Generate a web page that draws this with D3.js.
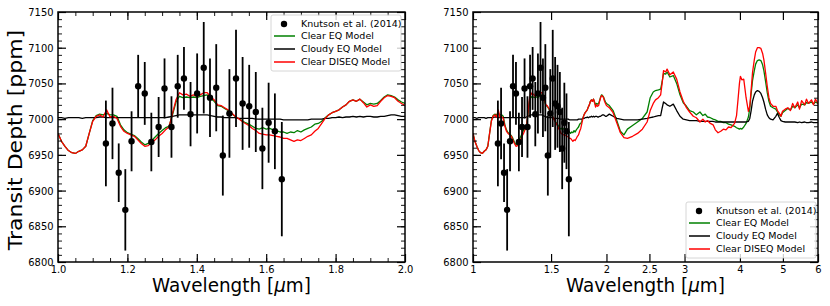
<!DOCTYPE html>
<meta charset="utf-8">
<head>
    <title>Transit spectrum</title>
    <script src="https://d3js.org/d3.v7.min.js"></script>
</head>

<style>
body { margin: 0; background: #fff; }
text { font-family: "DejaVu Sans", sans-serif; fill: #000; }
.tick text { font-size: 11px; }
.domain { display: none; }
.major line { stroke: #000; stroke-width: 1.2; }
.minor line { stroke: #000; stroke-width: 0.9; }
.model { fill: none; stroke-width: 1.3; stroke-linejoin: round; }
</style>

<body>

<svg width="830" height="306"></svg>

<script>

// observed points (Knutson et al. 2014)
let obsWave = [1.138, 1.157, 1.175, 1.194, 1.212, 1.231, 1.250, 1.269, 1.290, 1.307,
               1.327, 1.345, 1.363, 1.382, 1.401, 1.420, 1.438, 1.456, 1.475, 1.494,
               1.513, 1.532, 1.551, 1.570, 1.589, 1.607, 1.625, 1.645];
let obsDepth = [6966, 6994, 6925, 6873, 6969, 7046, 7036, 6968, 6989, 7043,
                6989, 7046, 7057, 7007, 7036, 7072, 7030, 7044, 6949, 7008,
                7057, 7022, 7018, 7010, 6959, 6995, 6983, 6916];
let obsErr = [60, 50, 41, 57, 42, 44, 44, 41, 42, 42,
              43, 44, 44, 45, 56, 64, 55, 61, 56, 62,
              68, 65, 58, 56, 57, 56, 53, 80];

// model wavelength grid (um)
let modelWave = [
  1.00, 1.01, 1.02, 1.03, 1.04, 1.05, 1.06, 1.07, 1.08, 1.09,
  1.10, 1.11, 1.12, 1.13, 1.14, 1.15, 1.16, 1.17, 1.18, 1.19,
  1.20, 1.21, 1.22, 1.23, 1.24, 1.25, 1.26, 1.27, 1.28, 1.29,
  1.30, 1.31, 1.32, 1.33, 1.34, 1.35, 1.36, 1.37, 1.38, 1.39,
  1.40, 1.41, 1.42, 1.43, 1.44, 1.45, 1.46, 1.47, 1.48, 1.49,
  1.50, 1.51, 1.52, 1.53, 1.54, 1.55, 1.56, 1.57, 1.58, 1.59,
  1.60, 1.61, 1.62, 1.63, 1.64, 1.65, 1.66, 1.67, 1.68, 1.69,
  1.70, 1.71, 1.72, 1.73, 1.74, 1.75, 1.76, 1.77, 1.78, 1.79,
  1.80, 1.81, 1.82, 1.83, 1.84, 1.85, 1.86, 1.87, 1.88, 1.89,
  1.90, 1.91, 1.92, 1.93, 1.94, 1.95, 1.96, 1.97, 1.98, 1.99,
  2.00,
  2.03, 2.07, 2.11, 2.15, 2.19,
  2.23, 2.29, 2.35, 2.41, 2.47,
  2.51, 2.55, 2.58, 2.62, 2.65,
  2.67, 2.69, 2.72, 2.74, 2.78,
  2.83, 2.88, 2.93, 2.98, 3.03,
  3.08, 3.14, 3.19, 3.25, 3.30,
  3.34, 3.38, 3.43, 3.48, 3.52,
  3.57, 3.62, 3.67, 3.72, 3.77,
  3.82, 3.89, 3.93, 3.96, 3.99,
  4.01, 4.04, 4.08, 4.13, 4.18,
  4.21, 4.24, 4.27, 4.31, 4.34,
  4.38, 4.42, 4.46, 4.50, 4.53,
  4.57, 4.61, 4.65, 4.69, 4.75,
  4.82, 4.86, 4.91, 4.95, 4.99,
  5.06, 5.13, 5.20, 5.26, 5.32,
  5.40, 5.45, 5.51, 5.60, 5.65,
  5.71, 5.80, 5.86, 5.92, 6.00
];

let clearEq = [
  6980, 6969, 6962, 6956, 6953, 6952, 6955, 6957, 6962, 6980,
  6998, 7005, 7007, 7006, 7008, 7006, 7006, 7004, 6992, 6985,
  6981, 6979, 6977, 6973, 6968, 6964, 6966, 6970, 6975, 6980,
  6984, 6988, 6990, 7006, 7024, 7032, 7030, 7031, 7030, 7031,
  7030, 7032, 7033, 7034, 7029, 7025, 7019, 7018, 7015, 7012,
  7008, 7004, 7001, 6998, 6995, 6993, 6990, 6987, 6986, 6988,
  6986, 6987, 6985, 6984, 6982, 6982, 6980, 6982, 6981, 6984,
  6982, 6985, 6987, 6989, 6993, 6994, 6997, 7002, 7006, 7009,
  7011, 7013, 7017, 7020, 7025, 7027, 7025, 7028, 7024, 7020,
  7022, 7021, 7022, 7026, 7031, 7034, 7033, 7031, 7027, 7024,
  7022,
  7019, 7012, 6998, 6983, 6978,
  6986, 6991, 6996, 7001, 7010,
  7030, 7038, 7040, 7041, 7042,
  7052, 7064, 7063, 7066, 7059,
  7061, 7050, 7034, 7023, 7018,
  7012, 7010, 7006, 7010, 7005,
  7007, 7003, 7002, 7000, 6999,
  6997, 6997, 6995, 6995, 6993,
  6992, 6990, 6988, 6987, 6986,
  6987, 6986, 6989, 6994, 7003,
  7015, 7036, 7054, 7068, 7077,
  7082, 7083, 7082, 7076, 7068,
  7053, 7037, 7025, 7018, 7016,
  7014, 7010, 7006, 7004, 7009,
  7012, 7015, 7013, 7018, 7016,
  7020, 7016, 7021, 7020, 7023,
  7022, 7024, 7021, 7024, 7022
];

let cloudyEq = [
  7002, 7002, 7001, 7002, 7002, 7002, 7002, 7001, 7002, 7002,
  7002, 7002, 7003, 7003, 7002, 7002, 7002, 7002, 7002, 7002,
  7002, 7002, 7002, 7002, 7002, 7002, 7002, 7002, 7002, 7002,
  7002, 7002, 7003, 7004, 7005, 7006, 7006, 7006, 7006, 7006,
  7006, 7006, 7006, 7006, 7005, 7004, 7003, 7003, 7002, 7002,
  7002, 7002, 7001, 7001, 7001, 7001, 7001, 7000, 7000, 7000,
  7000, 7000, 7000, 7000, 7000, 6999, 6999, 6999, 6999, 6999,
  6999, 6999, 6999, 7000, 7000, 7000, 7000, 7001, 7001, 7002,
  7002, 7003, 7002, 7003, 7003, 7004, 7003, 7004, 7003, 7004,
  7004, 7003, 7003, 7004, 7004, 7005, 7006, 7006, 7005, 7004,
  7004,
  7007, 7004, 7001, 7000, 6999,
  6999, 6999, 6999, 7000, 7001,
  7002, 7003, 7004, 7005, 7005,
  7015, 7024, 7022, 7020, 7018,
  7021, 7012, 7004, 7000, 6999,
  6998, 6998, 6998, 6997, 6997,
  6997, 6997, 6997, 6997, 6996,
  6996, 6996, 6996, 6996, 6996,
  6996, 6996, 6996, 6996, 6996,
  6996, 6996, 6996, 6996, 6997,
  7001, 7012, 7025, 7034, 7038,
  7040, 7039, 7036, 7030, 7024,
  7014, 7006, 7002, 7000, 6999,
  7004, 7008, 7002, 6998, 6997,
  6996, 6996, 6996, 6996, 6996,
  6995, 6996, 6995, 6996, 6995,
  6995, 6996, 6995, 6995, 6995
];

let clearDiseq = [
  6980, 6969, 6962, 6956, 6953, 6952, 6955, 6957, 6962, 6980,
  6997, 7004, 7006, 7003, 7013, 7003, 7004, 7001, 6990, 6983,
  6980, 6978, 6976, 6971, 6966, 6962, 6963, 6967, 6971, 6976,
  6980, 6985, 6989, 7008, 7027, 7037, 7034, 7035, 7032, 7034,
  7032, 7034, 7037, 7037, 7031, 7027, 7020, 7019, 7016, 7013,
  7009, 7004, 7001, 6997, 6994, 6991, 6987, 6984, 6980, 6979,
  6978, 6978, 6977, 6976, 6975, 6973, 6973, 6971, 6969, 6971,
  6970, 6973, 6976, 6978, 6983, 6987, 6994, 7001, 7006, 7009,
  7011, 7013, 7017, 7020, 7025, 7027, 7025, 7028, 7023, 7017,
  7020, 7018, 7019, 7025, 7030, 7033, 7032, 7030, 7025, 7022,
  7019,
  7016, 7009, 6995, 6981, 6974,
  6973, 6976, 6980, 6986, 6996,
  7012, 7022, 7027, 7030, 7034,
  7050, 7068, 7066, 7070, 7062,
  7066, 7056, 7038, 7025, 7016,
  7010, 7004, 7002, 6996, 7000,
  6996, 6998, 6994, 6992, 6985,
  6981, 6983, 6986, 6985, 6989,
  6988, 6994, 7005, 7027, 7050,
  7060, 7055, 7056, 7030, 7011,
  7018, 7041, 7065, 7083, 7094,
  7100, 7100, 7099, 7092, 7083,
  7065, 7046, 7030, 7022, 7018,
  7018, 7012, 7008, 7004, 7011,
  7014, 7016, 7012, 7022, 7016,
  7024, 7014, 7026, 7020, 7028,
  7022, 7027, 7020, 7028, 7022
];

let models = [
  {name: "Clear EQ Model", values: clearEq, color: "#008000"},
  {name: "Cloudy EQ Model", values: cloudyEq, color: "#000000"},
  {name: "Clear DISEQ Model", values: clearDiseq, color: "#ff0000"}
];

// tick labels
let yTicks = [6800, 6850, 6900, 6950, 7000, 7050, 7100, 7150];
let leftXTicks = [1.0, 1.2, 1.4, 1.6, 1.8, 2.0];
let rightXTicks = [1, 1.5, 2, 2.5, 3, 4, 5, 6];

let plotTop = 12, plotBottom = 262;
let svg = d3.select("svg");

let y = d3.scaleLinear().domain([6800, 7150]).range([plotBottom, plotTop]);

let panels = [
  {left: 58, right: 405, x: d3.scaleLinear().domain([1, 2]),
   ticks: leftXTicks, minor: d3.range(1, 2.001, 0.05), fmt: d3.format(".1f"),
   legend: [271, 15]},
  {left: 473, right: 818, x: d3.scaleLog().domain([1, 6]),
   ticks: rightXTicks, minor: [], fmt: d3.format(""),
   legend: [686, 202]}
];

panels.forEach(function(p, i) {
  p.x.range([p.left, p.right]);
  let x = p.x;
  let g = svg.append("g");

  g.append("clipPath").attr("id", "clip" + i)
    .append("rect")
    .attr("x", p.left).attr("y", plotTop)
    .attr("width", p.right - p.left).attr("height", plotBottom - plotTop);

  let plot = g.append("g").attr("clip-path", "url(#clip" + i + ")");

  // model spectra
  let line = d3.line()
    .defined(function(d, j) { return d != null && modelWave[j] != null; })
    .x(function(d, j) { return x(modelWave[j]); })
    .y(function(d) { return y(d); });

  models.forEach(function(m) {
    plot.append("path")
      .attr("class", "model")
      .attr("stroke", m.color)
      .attr("d", line(m.values));
  });

  // observed points with error bars
  plot.selectAll(".err")
    .data(obsWave)
    .enter()
    .append("line")
    .attr("x1", function(d) { return x(d); })
    .attr("x2", function(d) { return x(d); })
    .attr("y1", function(d, j) { return y(obsDepth[j] - obsErr[j]); })
    .attr("y2", function(d, j) { return y(obsDepth[j] + obsErr[j]); })
    .attr("stroke", "#000")
    .attr("stroke-width", 1.8);

  plot.selectAll(".pt")
    .data(obsWave)
    .enter()
    .append("circle")
    .attr("cx", function(d) { return x(d); })
    .attr("cy", function(d, j) { return y(obsDepth[j]); })
    .attr("r", 3.2)
    .attr("fill", "#000");

  // axes, ticks pointing in on all four sides
  g.append("g").attr("class", "major")
    .attr("transform", "translate(0," + plotBottom + ")")
    .call(d3.axisBottom(x).tickValues(p.ticks).tickSize(-8).tickPadding(3).tickFormat(p.fmt));
  g.append("g").attr("class", "major")
    .attr("transform", "translate(0," + plotTop + ")")
    .call(d3.axisTop(x).tickValues(p.ticks).tickSize(-8).tickFormat(""));
  g.append("g").attr("class", "minor")
    .attr("transform", "translate(0," + plotBottom + ")")
    .call(d3.axisBottom(x).tickValues(p.minor).tickSize(-4).tickFormat(""));
  g.append("g").attr("class", "minor")
    .attr("transform", "translate(0," + plotTop + ")")
    .call(d3.axisTop(x).tickValues(p.minor).tickSize(-4).tickFormat(""));

  g.append("g").attr("class", "major")
    .attr("transform", "translate(" + p.left + ",0)")
    .call(d3.axisLeft(y).tickValues(yTicks).tickSize(-8).tickPadding(5).tickFormat(d3.format("d")));
  g.append("g").attr("class", "major")
    .attr("transform", "translate(" + p.right + ",0)")
    .call(d3.axisRight(y).tickValues(yTicks).tickSize(-8).tickFormat(""));
  g.append("g").attr("class", "minor")
    .attr("transform", "translate(" + p.left + ",0)")
    .call(d3.axisLeft(y).tickValues(d3.range(6800, 7151, 10)).tickSize(-4).tickFormat(""));
  g.append("g").attr("class", "minor")
    .attr("transform", "translate(" + p.right + ",0)")
    .call(d3.axisRight(y).tickValues(d3.range(6800, 7151, 10)).tickSize(-4).tickFormat(""));

  // squeeze tick labels a little, like the source figure
  g.selectAll(".tick text").attr("transform", "scale(0.9,1)");

  // frame
  g.append("rect")
    .attr("x", p.left).attr("y", plotTop)
    .attr("width", p.right - p.left).attr("height", plotBottom - plotTop)
    .attr("fill", "none").attr("stroke", "#000").attr("stroke-width", 1.5);

  // x label
  let xl = g.append("text")
    .attr("transform", "translate(" + (p.left + p.right) / 2 + ",292) scale(0.92,1)")
    .attr("text-anchor", "middle")
    .style("font-size", "20px");
  xl.append("tspan").text("Wavelength [");
  xl.append("tspan").style("font-style", "italic").text("μ");
  xl.append("tspan").text("m]");

  // legend
  let lg = g.append("g").attr("transform", "translate(" + p.legend[0] + "," + p.legend[1] + ")");
  lg.append("rect")
    .attr("width", 130).attr("height", 56).attr("rx", 2)
    .attr("fill", "#fff").attr("fill-opacity", 0.8)
    .attr("stroke", "#ccc").attr("stroke-width", 0.8);
  lg.append("circle").attr("cx", 13).attr("cy", 9).attr("r", 3.2).attr("fill", "#000");
  lg.append("text").attr("x", 30).attr("y", 9).attr("dy", "0.35em")
    .style("font-size", "9.5px").text("Knutson et al. (2014)");
  models.forEach(function(m, k) {
    let ly = 21 + k * 13;
    lg.append("line")
      .attr("x1", 3).attr("x2", 24).attr("y1", ly).attr("y2", ly)
      .attr("stroke", m.color).attr("stroke-width", 1.5);
    lg.append("text").attr("x", 30).attr("y", ly).attr("dy", "0.35em")
      .style("font-size", "9.5px").text(m.name);
  });
});

// y label
svg.append("text")
  .attr("transform", "translate(22,140) rotate(-90) scale(1,0.92)")
  .attr("text-anchor", "middle")
  .style("font-size", "22px")
  .text("Transit Depth [ppm]");

</script>

</body>
